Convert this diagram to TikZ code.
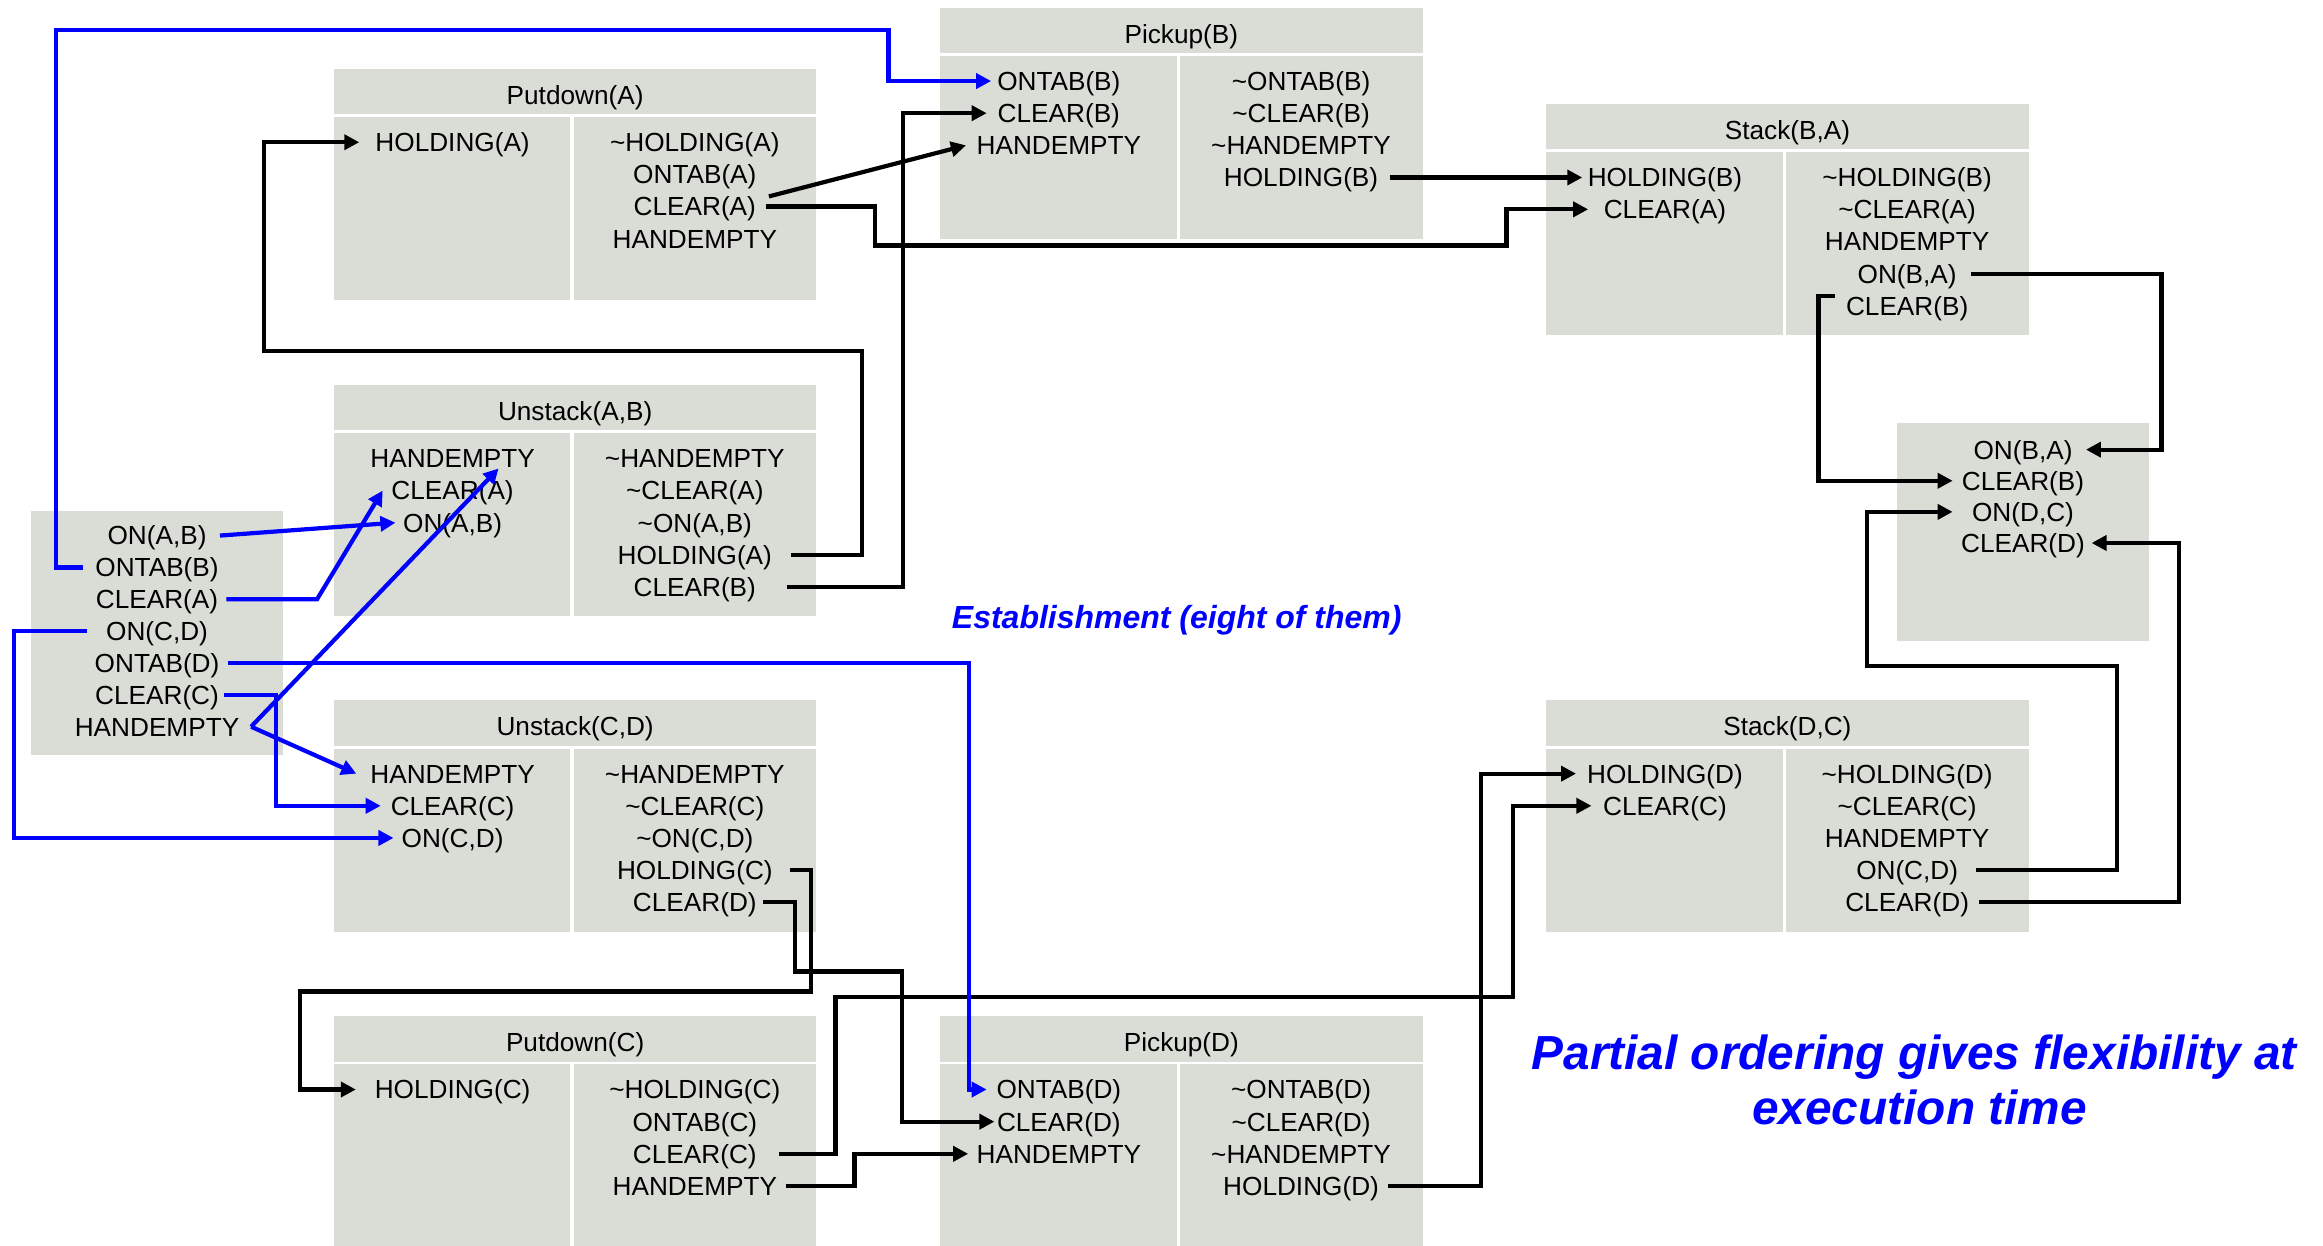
\documentclass[tikz,border=0pt]{standalone}
\usepackage{fontspec}
\setmainfont{Liberation Sans}
\usetikzlibrary{arrows.meta}
\definecolor{boxgray}{RGB}{218,221,214}
\definecolor{linkblue}{RGB}{0,0,255}

\tikzset{
  lit/.style={font=\fontsize{7.45pt}{9pt}\selectfont, inner sep=0pt,
              text height=1.88mm, text depth=0pt},
  conn/.style={line width=1.2pt, -{Triangle[length=1.5mm,width=1.5mm]}},
  bconn/.style={conn, linkblue},
  remark/.style={font=\bfseries\itshape, text=linkblue, inner sep=0pt, anchor=base},
}

% operator box: id, left, top, title
\newcommand\opbox[4]{%
  \fill[boxgray] (#2,#3) rectangle ++(325.5,30.5);
  \fill[boxgray] (#2,{#3+32.5}) rectangle ++(159.5,123.5);
  \fill[boxgray] ({#2+161.7},{#3+32.5}) rectangle ++(163.8,123.5);
  \node[lit] (#1-t) at ({#2+162.7},{#3+17.6}) {#4};
}
% column of literals: name prefix, x, first row y, row gap, literals
\newcommand\litcol[5]{%
  \foreach \s [count=\i from 0] in {#5}
    \node[lit] (#1\i) at (#2,{#3+#4*\i}) {\s};
}

\begin{document}
\begin{tikzpicture}[x=0.1481505mm, y=-0.1481505mm]
\useasboundingbox (0,0) rectangle (1568,840.36);
\clip (0,0) rectangle (1568,840.36);
\fill[white] (0,0) rectangle (1568,840.36);

% ---- operators ----
\opbox{pa}{225.5}{46.6}{Putdown(A)}
\litcol{pa-p}{305.5}{96}{21.7}{{HOLDING(A)}}
\litcol{pa-e}{469}{96}{21.7}{{\textasciitilde HOLDING(A)},{ONTAB(A)},{CLEAR(A)},{HANDEMPTY}}

\opbox{pb}{634.7}{5.3}{Pickup(B)}
\litcol{pb-p}{714.7}{54.7}{21.7}{{ONTAB(B)},{CLEAR(B)},{HANDEMPTY}}
\litcol{pb-e}{878.2}{54.7}{21.7}{{\textasciitilde ONTAB(B)},{\textasciitilde CLEAR(B)},{\textasciitilde HANDEMPTY},{HOLDING(B)}}

\opbox{sba}{1043.8}{70.2}{Stack(B,A)}
\litcol{sba-p}{1123.8}{119.6}{21.7}{{HOLDING(B)},{CLEAR(A)}}
\litcol{sba-e}{1287.3}{119.6}{21.7}{{\textasciitilde HOLDING(B)},{\textasciitilde CLEAR(A)},{HANDEMPTY},{ON(B,A)},{CLEAR(B)}}

\opbox{ua}{225.5}{260}{Unstack(A,B)}
\litcol{ua-p}{305.5}{309.4}{21.7}{{HANDEMPTY},{CLEAR(A)},{ON(A,B)}}
\litcol{ua-e}{469}{309.4}{21.7}{{\textasciitilde HANDEMPTY},{\textasciitilde CLEAR(A)},{\textasciitilde ON(A,B)},{HOLDING(A)},{CLEAR(B)}}

\opbox{ucd}{225.5}{472.8}{Unstack(C,D)}
\litcol{ucd-p}{305.5}{522.2}{21.7}{{HANDEMPTY},{CLEAR(C)},{ON(C,D)}}
\litcol{ucd-e}{469}{522.2}{21.7}{{\textasciitilde HANDEMPTY},{\textasciitilde CLEAR(C)},{\textasciitilde ON(C,D)},{HOLDING(C)},{CLEAR(D)}}

\opbox{sdc}{1043.8}{472.8}{Stack(D,C)}
\litcol{sdc-p}{1123.8}{522.2}{21.7}{{HOLDING(D)},{CLEAR(C)}}
\litcol{sdc-e}{1287.3}{522.2}{21.7}{{\textasciitilde HOLDING(D)},{\textasciitilde CLEAR(C)},{HANDEMPTY},{ON(C,D)},{CLEAR(D)}}

\opbox{pc}{225.5}{686}{Putdown(C)}
\litcol{pc-p}{305.5}{735.4}{21.7}{{HOLDING(C)}}
\litcol{pc-e}{469}{735.4}{21.7}{{\textasciitilde HOLDING(C)},{ONTAB(C)},{CLEAR(C)},{HANDEMPTY}}

\opbox{pd}{634.7}{686}{Pickup(D)}
\litcol{pd-p}{714.7}{735.4}{21.7}{{ONTAB(D)},{CLEAR(D)},{HANDEMPTY}}
\litcol{pd-e}{878.2}{735.4}{21.7}{{\textasciitilde ONTAB(D)},{\textasciitilde CLEAR(D)},{\textasciitilde HANDEMPTY},{HOLDING(D)}}

% ---- initial state and goal ----
\fill[boxgray] (20.9,344.7) rectangle (191.3,509.6);
\litcol{i}{106}{361.5}{21.5}{{ON(A,B)},{ONTAB(B)},{CLEAR(A)},{ON(C,D)},{ONTAB(D)},{CLEAR(C)},{HANDEMPTY}}

\fill[boxgray] (1280.5,285.3) rectangle (1450.8,432.5);
\litcol{g}{1365.5}{303.5}{21}{{ON(B,A)},{CLEAR(B)},{ON(D,C)},{CLEAR(D)}}

% ---- causal links between operators ----
\draw[conn] (534,0 |- ua-e3) -| (582,237) -| (178,0 |- pa-p0) -- (242.5,0 |- pa-p0);
\draw[conn] (531,0 |- ua-e4) -| (609.6,0 |- pb-p1) -- (666,0 |- pb-p1);
\draw[conn] (519,0 |- pa-e2.north) -- (652,0 |- pb-p2);
\draw[conn] (517,0 |- pa-e2) -| (590.6,165.7) -| (1016.8,0 |- sba-p1) -- (1072,0 |- sba-p1);
\draw[conn] (938,0 |- pb-e3) -- (1068,0 |- pb-e3);
\draw[conn] (1330.4,0 |- sba-e3) -| (1459,0 |- g0) -- (1408,0 |- g0);
\draw[conn] (1238.4,0 |- sba-e4.north) -- (1227.4,0 |- sba-e4.north) |- (1318,0 |- g1);
\draw[conn] (1334,0 |- sdc-e3) -| (1429,449.4) -| (1260.4,0 |- g2) -- (1318,0 |- g2);
\draw[conn] (1336,0 |- sdc-e4) -| (1471,0 |- g3) -- (1411.8,0 |- g3);
\draw[conn] (533,0 |- ucd-e3) -| (547.6,669.3) -| (202.3,0 |- pc-p0) -- (240.2,0 |- pc-p0);
\draw[conn] (515,0 |- ucd-e4) -| (536.4,655.8) -| (608.7,0 |- pd-p1) -- (671.2,0 |- pd-p1);
\draw[conn] (526,0 |- pc-e2) -| (564,673) -| (1021,0 |- sdc-p1) -- (1074.2,0 |- sdc-p1);
\draw[conn] (530.3,0 |- pc-e3) -| (576.8,0 |- pd-p2) -- (653.5,0 |- pd-p2);
\draw[conn] (937,0 |- pd-e3) -| (999.5,0 |- sdc-p0) -- (1063.8,0 |- sdc-p0);

% ---- establishment links from the initial state ----
\draw[bconn] (148.5,0 |- i0) -- (266.9,0 |- ua-p2);
\draw[bconn] (56,0 |- i1) -| (37.9,20.2) -| (599.7,0 |- pb-p0) -- (669,0 |- pb-p0);
\draw[bconn] (152.8,0 |- i2) -- (214,0 |- i2) -- (258.3,0 |- ua-p1);
\draw[bconn] (169.5,0 |- i6) -- (336.5,0 |- ua-p0.south);
\draw[bconn] (169.5,0 |- i6) -- (240.5,0 |- ucd-p0);
\draw[bconn] (151.5,0 |- i5) -| (186.3,0 |- ucd-p1) -- (257,0 |- ucd-p1);
\draw[bconn] (59,0 |- i3) -| (9.5,0 |- ucd-p2) -- (265.6,0 |- ucd-p2);
\draw[bconn] (153.7,0 |- i4) -| (654,0 |- pd-p0) -- (666,0 |- pd-p0);

% ---- remarks ----
\node[remark, font=\fontsize{9.1pt}{11pt}\selectfont\bfseries\itshape] (estab) at (794.3,424) {Establishment (eight of them)};
\node[remark, font=\fontsize{13.6pt}{16pt}\selectfont\bfseries\itshape] (note1) at (1292,721.6) {Partial ordering gives flexibility at};
\node[remark, font=\fontsize{13.6pt}{16pt}\selectfont\bfseries\itshape] (note2) at (1295.7,759) {execution time};
\end{tikzpicture}
\end{document}
